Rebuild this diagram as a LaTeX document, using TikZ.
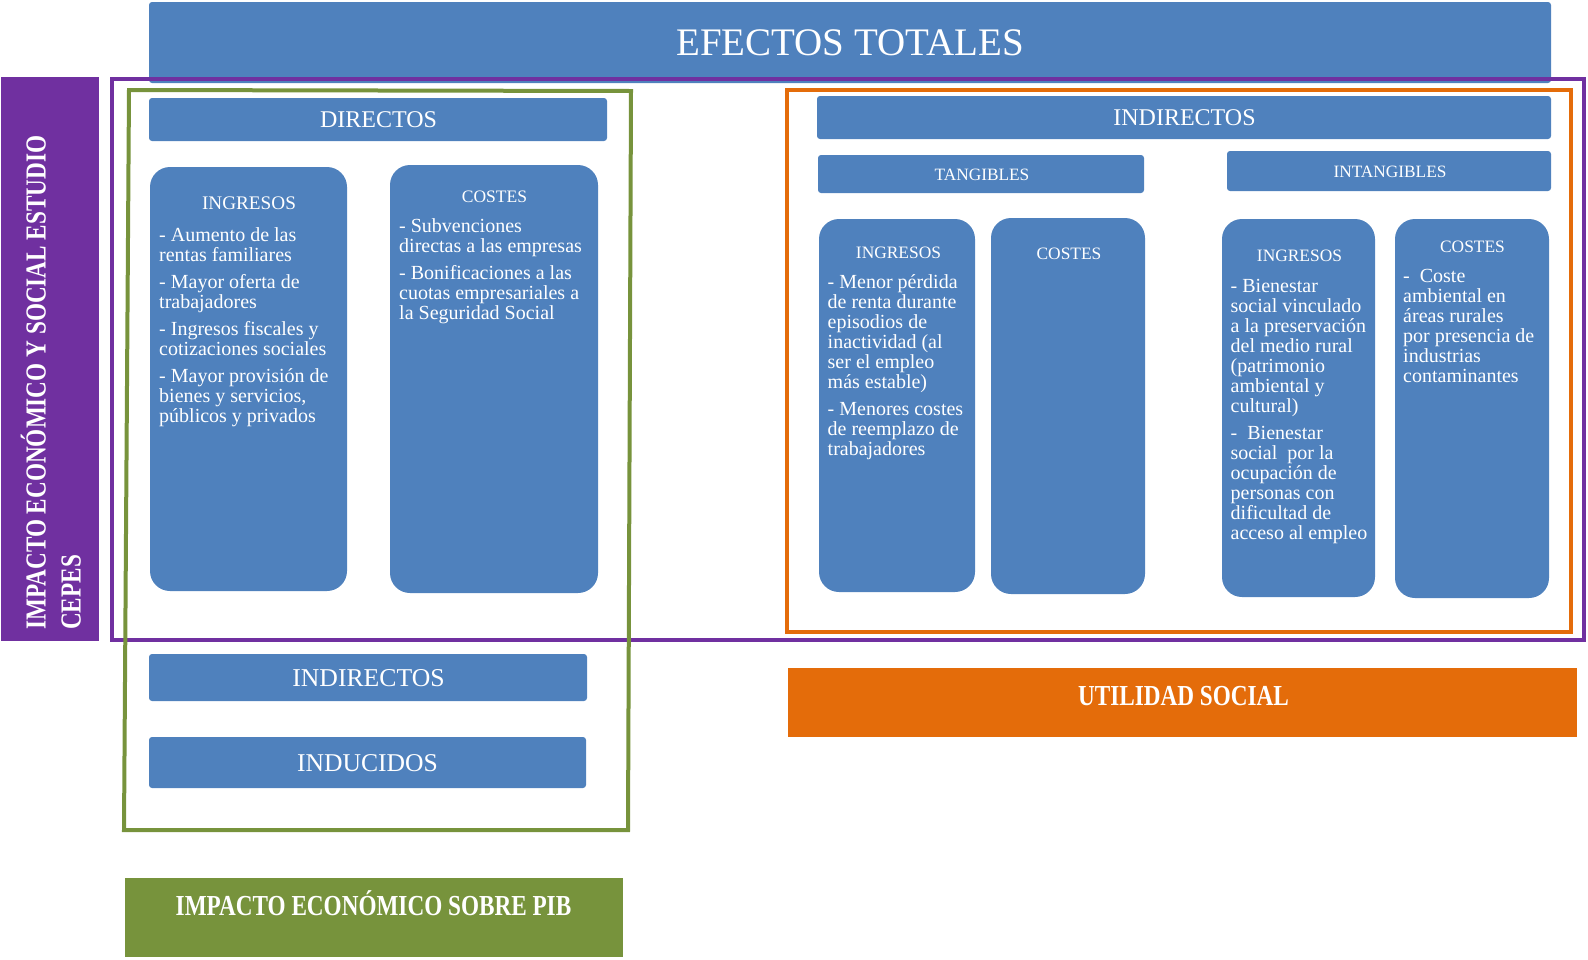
\documentclass[tikz,border=0pt]{standalone}
\usepackage{fontspec}
\setmainfont{Liberation Serif}
\newfontfamily\cbf{Liberation Serif}[FakeStretch=0.8]
\definecolor{boxblue}{HTML}{4F81BD}
\definecolor{purp}{HTML}{7030A0}
\definecolor{orng}{HTML}{E46C0A}
\definecolor{grn}{HTML}{77933C}
\newcommand\nols{\lineskiplimit=-100pt\relax}
\newcommand\bx[6]{\node[#6, inner sep=0pt, minimum width={#4-#2}, minimum height={#5-#3}] (#1) at ({(#2+#4)/2},{(#3+#5)/2}) {};}
\tikzset{
  hdr/.style={fill=boxblue, rounded corners=3pt},
  colbox/.style={fill=boxblue, rounded corners=20pt},
  flat/.style={fill=#1},
  lbl/.style={text=white, inner sep=0pt, anchor=base, font=\fontsize{#1}{#1}\selectfont},
  blbl/.style={text=white, inner sep=0pt, anchor=base, font=\cbf\bfseries\fontsize{29}{35}\selectfont},
  body/.style={text=white, inner sep=0pt, anchor=north west, align=left, font=\fontsize{20}{20}\selectfont\nols},
  frame/.style={draw=#1, line width=4pt},
}
\newcommand\st{\rule{0pt}{15pt}}
\begin{document}
\begin{tikzpicture}[x=1pt, y=-1pt]
\useasboundingbox (0,0) rectangle (1588,959);
% boxes
\bx{efectos}{149}{2}{1551}{83}{hdr}
\bx{bar}{1}{77}{99}{641}{flat=purp}
\draw[frame=purp] (112,79) rectangle (1584,640);
\bx{directos}{149}{98}{607}{141}{hdr}
\bx{dIng}{150}{167}{347}{591}{colbox}
\bx{dCos}{390}{165}{598}{593}{colbox}
\bx{lIndir}{149}{654}{587}{701}{hdr}
\bx{induc}{149}{737}{586}{788}{hdr}
\bx{pib}{125}{878}{623}{957}{flat=grn}
\draw[frame=grn] (129,90) -- (631,91) -- (628,830) -- (124,830) -- cycle;
\draw[frame=orng] (787,90) rectangle (1571,632);
\bx{rIndir}{817}{96}{1551}{139}{hdr}
\bx{tang}{818}{155}{1144}{193}{hdr}
\bx{intang}{1227}{151}{1551}{191}{hdr}
\bx{tIng}{819}{219}{975}{592}{colbox}
\bx{tCos}{991}{218}{1145}{594}{colbox}
\bx{iIng}{1222}{219}{1375}{597}{colbox}
\bx{iCos}{1395}{219}{1549}{598}{colbox}
\bx{util}{788}{668}{1577}{737}{flat=orng}
% headings
\node[lbl=39] (tEfectos) at (850,55) {EFECTOS TOTALES};
\node[lbl=24] (tDirectos) at (378.5,127.5) {DIRECTOS};
\node[lbl=24] (tRIndir) at (1184.5,125.5) {INDIRECTOS};
\node[lbl=17.3] (tTang) at (982,180) {TANGIBLES};
\node[lbl=17.3] (tIntang) at (1390,177) {INTANGIBLES};
\node[lbl=25.7] (tLIndir) at (368.5,686) {INDIRECTOS};
\node[lbl=25.6] (tInduc) at (367.5,771) {INDUCIDOS};
\node[blbl] (tUtil) at (1183.5,705) {UTILIDAD SOCIAL};
\node[blbl] (tPib) at (373.5,915) {IMPACTO ECONÓMICO SOBRE PIB};
\node[lbl=19.2] (hDIng) at (249,209) {INGRESOS};
\node[lbl=17.5] (hDCos) at (494.5,202.5) {COSTES};
\node[lbl=17.4] (hTIng) at (898.5,258) {INGRESOS};
\node[lbl=17.4] (hTCos) at (1069,259) {COSTES};
\node[lbl=17.4] (hIIng) at (1299.5,261) {INGRESOS};
\node[lbl=17.4] (hICos) at (1472.5,252) {COSTES};
% vertical
\node[text=white, inner sep=0pt, rotate=90, anchor=north west, align=left,
      font=\cbf\bfseries\fontsize{29}{35}\selectfont\nols] (vert) at (18.5,630)
  {\rule{0pt}{27pt}IMPACTO ECONÓMICO Y SOCIAL ESTUDIO\\CEPES};
% body texts
\node[body] (bDIng) at (159,226) {\st- Aumento de las\\rentas familiares\\[7pt]- Mayor oferta de\\trabajadores\\[7pt]- Ingresos fiscales y\\cotizaciones sociales\\[7pt]- Mayor provisión de\\bienes y servicios,\\públicos y privados};
\node[body] (bDCos) at (399,217) {\st- Subvenciones\\directas a las empresas\\[7pt]- Bonificaciones a las\\cuotas empresariales a\\la Seguridad Social};
\node[body] (bTIng) at (827.5,273.5) {\st- Menor pérdida\\de renta durante\\episodios de\\inactividad (al\\ser el empleo\\más estable)\\[7pt]- Menores costes\\de reemplazo de\\trabajadores};
\node[body] (bIIng) at (1230.5,277.6) {\st- Bienestar\\social vinculado\\a la preservación\\del medio rural\\(patrimonio\\ambiental y\\cultural)\\[7pt]- \ Bienestar\\social \ por la\\ocupación de\\personas con\\dificultad de\\acceso al empleo};
\node[body] (bICos) at (1403,267.5) {\st- \ Coste\\ambiental en\\áreas rurales\\por presencia de\\industrias\\contaminantes};
\end{tikzpicture}
\end{document}
